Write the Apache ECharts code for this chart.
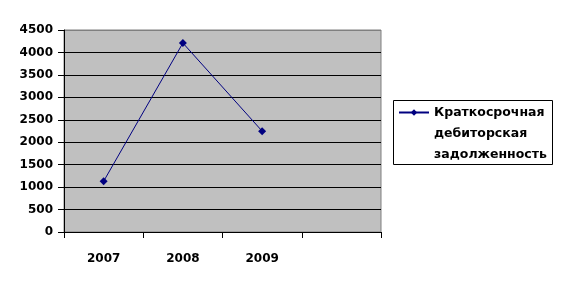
<!DOCTYPE html>
<html><head><meta charset="utf-8">
<script src="https://cdn.jsdelivr.net/npm/echarts@6/dist/echarts.min.js"></script>
<style>html,body{margin:0;padding:0;background:#fff}#c{width:563px;height:289px}</style>
</head><body><div id="c"></div>
<script>
const categories = ['2007', '2008', '2009', ''];
const seriesName = 'Краткосрочная\nдебиторская\nзадолженность';
const values = [1130, 4210, 2247, null];
const yTicks = { min: 0, max: 4500, interval: 500 };

const font = 'DejaVu Sans';
const chart = echarts.init(document.getElementById('c'), null, { renderer: 'canvas' });
const splitColors = [];
for (let v = yTicks.min; v <= yTicks.max; v += yTicks.interval) splitColors.push(v === yTicks.max ? '#808080' : '#000000');

chart.setOption({
  animation: false,
  backgroundColor: '#ffffff',
  grid: { left: 64, right: 182, top: 30, bottom: 57, show: true, backgroundColor: '#c0c0c0', borderColor: '#808080', borderWidth: 1 },
  xAxis: {
    type: 'category', data: categories, boundaryGap: true,
    axisLine: { show: true, lineStyle: { color: '#000', width: 1 } },
    axisTick: { show: true, inside: false, length: 6, alignWithLabel: false, lineStyle: { color: '#000' } },
    axisLabel: { margin: 21, color: '#000', fontFamily: font, fontWeight: 'bold', fontSize: 12, interval: 0 },
    splitLine: { show: false }
  },
  yAxis: {
    type: 'value', min: yTicks.min, max: yTicks.max, interval: yTicks.interval,
    axisLine: { show: true, lineStyle: { color: '#000', width: 1 } },
    axisTick: { show: true, length: 6, lineStyle: { color: '#000' } },
    axisLabel: { margin: 11, color: '#000', fontFamily: font, fontWeight: 'bold', fontSize: 12, formatter: v => String(v) },
    splitLine: { show: true, lineStyle: { color: splitColors, width: 1 } }
  },
  legend: {
    left: 398, top: 60, padding: 0, orient: 'vertical',
    itemWidth: 30, itemHeight: 8,
    formatter: name => '\n\n' + name,
    textStyle: { fontFamily: font, fontWeight: 'bold', fontSize: 12.5, color: '#000', lineHeight: 21 },
    data: [seriesName]
  },
  graphic: [{ type: 'rect', left: 393, top: 100, z: -1, shape: { width: 159, height: 64 }, style: { fill: '#fff', stroke: '#000', lineWidth: 1 } }],
  series: [{
    name: seriesName, type: 'line', data: values,
    symbol: 'diamond', symbolSize: 8, showSymbol: true,
    lineStyle: { color: '#000080', width: 1 },
    itemStyle: { color: '#000080' }
  }]
});
</script></body></html>
